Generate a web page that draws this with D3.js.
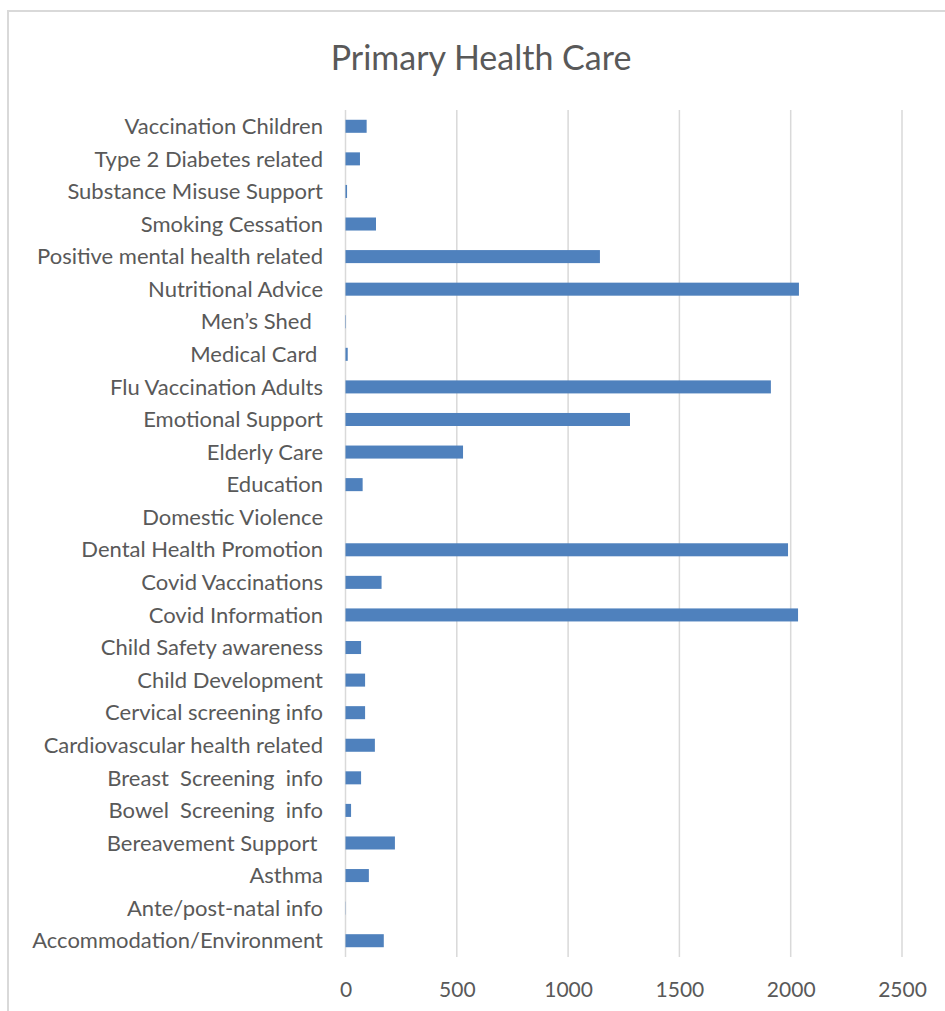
<!DOCTYPE html>
<html>
<head>
<meta charset="utf-8">
<script src="https://cdn.jsdelivr.net/npm/d3@7"></script>
<style>
  html, body { margin: 0; padding: 0; background: #fff; }
  svg { display: block; }
  text { font-family: Lato, "Open Sans", sans-serif; white-space: pre; }
</style>
</head>
<body>
<script>
// Categories, top to bottom as displayed
const categories = [
  "Vaccination Children",
  "Type 2 Diabetes related",
  "Substance Misuse Support",
  "Smoking Cessation",
  "Positive mental health related",
  "Nutritional Advice",
  "Men\u2019s Shed  ",
  "Medical Card ",
  "Flu Vaccination Adults",
  "Emotional Support",
  "Elderly Care",
  "Education",
  "Domestic Violence",
  "Dental Health Promotion",
  "Covid Vaccinations",
  "Covid Information",
  "Child Safety awareness",
  "Child Development",
  "Cervical screening info",
  "Cardiovascular health related",
  "Breast  Screening  info",
  "Bowel  Screening  info",
  "Bereavement Support ",
  "Asthma",
  "Ante/post-natal info",
  "Accommodation/Environment"
];
const values = [
  95, 65, 7, 137, 1143, 2037, 2, 10, 1911, 1278, 528, 77, 0, 1988, 162, 2033,
  70, 88, 88, 132, 70, 25, 222, 105, 1, 172
];
const xTicks = [0, 500, 1000, 1500, 2000, 2500];
const title = "Primary Health Care";

const W = 945, H = 1011;
const svg = d3.select("body").append("svg").attr("width", W).attr("height", H);

// chart border
svg.append("rect")
  .attr("x", 8).attr("y", 11)
  .attr("width", W + 10).attr("height", H + 10)
  .attr("fill", "#fff").attr("stroke", "#d9d9d9").attr("stroke-width", 2);

svg.append("text")
  .attr("x", 481).attr("y", 70)
  .attr("text-anchor", "middle")
  .attr("fill", "#595959")
  .attr("font-size", 34)
  .text(title);

const x = d3.scaleLinear().domain([0, 2500]).range([345.5, 902]);
const y = d3.scaleBand().domain(categories).range([110, 957]).paddingInner(0.6).paddingOuter(0.3);

// gridlines
svg.append("g").selectAll("line").data(xTicks).join("line")
  .attr("x1", d => x(d)).attr("x2", d => x(d))
  .attr("y1", 110).attr("y2", 957)
  .attr("stroke", "#d9d9d9").attr("stroke-width", 1.5);

// bars
svg.append("g").selectAll("rect").data(categories).join("rect")
  .attr("x", x(0))
  .attr("y", d => y(d))
  .attr("width", (d, i) => Math.max(0, x(values[i]) - x(0)))
  .attr("height", y.bandwidth())
  .attr("fill", "#4f81bd");

// y axis labels
const yAxis = d3.axisLeft(y).tickSize(0).tickPadding(0);
const gy = svg.append("g").attr("transform", "translate(323,0)").call(yAxis);
gy.select(".domain").remove();
gy.selectAll("text")
  .attr("fill", "#595959")
  .attr("font-size", 22)
  .attr("font-family", "Lato, 'Open Sans', sans-serif")
  .attr("dy", "0.35em");

// x axis labels
const xAxis = d3.axisBottom(x).tickValues(xTicks).tickSize(0).tickPadding(0).tickFormat(d3.format("d"));
const gx = svg.append("g").attr("transform", "translate(0,983)").call(xAxis);
gx.select(".domain").remove();
gx.selectAll("text")
  .attr("fill", "#595959")
  .attr("font-size", 21)
  .attr("font-family", "Lato, 'Open Sans', sans-serif")
  .attr("dy", "0.35em")
  .attr("y", 7);
</script>
</body>
</html>
